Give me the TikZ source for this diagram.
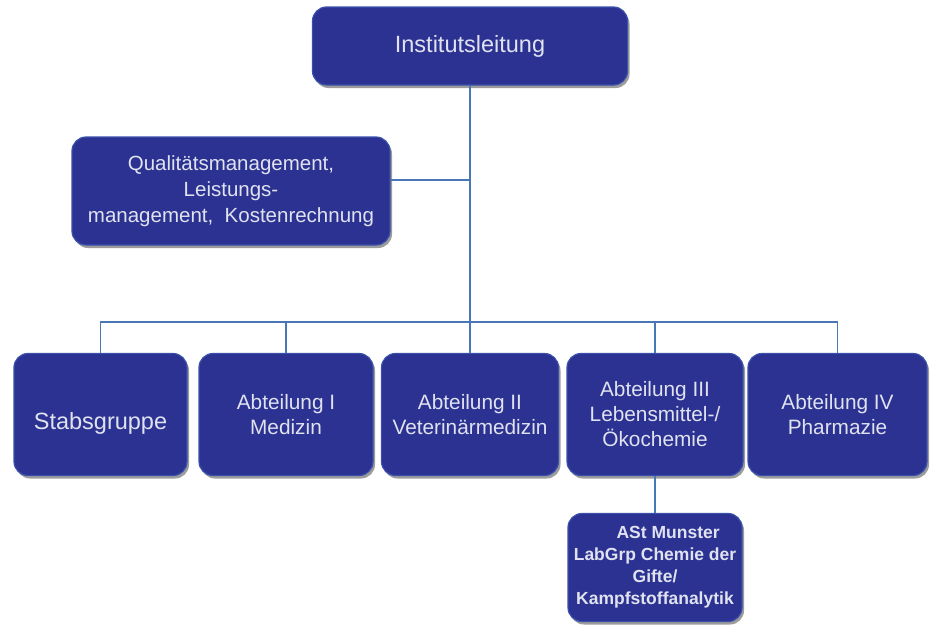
\documentclass[tikz,border=0pt]{standalone}
\usepackage{fontspec}
\setmainfont{Liberation Sans}
\usetikzlibrary{shadows}
\definecolor{boxfill}{RGB}{44,50,145}
\definecolor{boxedge}{RGB}{58,80,170}
\definecolor{linec}{RGB}{72,118,182}
\definecolor{txt}{RGB}{224,226,240}
\tikzset{
  orgbox/.style={draw=boxedge, line width=1.2pt, fill=boxfill, rounded corners=14pt,
    text=txt, align=center, inner sep=2pt,
    drop shadow={shadow xshift=2pt, shadow yshift=-3pt, opacity=0.55, fill=black!70}},
  conn/.style={draw=linec, line width=1.8pt}
}
\begin{document}
\begin{tikzpicture}[x=1pt,y=-1pt]
\useasboundingbox (0,0) rectangle (933,624);
\fill[white] (0,0) rectangle (933,624);

\node[orgbox, minimum width=315pt, minimum height=78pt, font=\fontsize{23.5}{27}\selectfont] (top) at (470,46) {Institutsleitung};

\node[orgbox, minimum width=318pt, minimum height=108pt, font=\fontsize{20.5}{26}\selectfont] (qm) at (231,191) {Qualitätsmanagement,\\Leistungs-\\management, \ Kostenrechnung};

\node[orgbox, minimum width=173pt, minimum height=122pt, font=\fontsize{23.5}{27}\selectfont] (stab) at (100.5,414.5) {\raisebox{-9pt}[\height][\depth]{Stabsgruppe}};
\node[orgbox, minimum width=174pt, minimum height=122pt, font=\fontsize{20.8}{25}\selectfont] (a1) at (286,414.5) {Abteilung I\\Medizin};
\node[orgbox, minimum width=177pt, minimum height=122pt, font=\fontsize{20.8}{25}\selectfont] (a2) at (470,414.5) {Abteilung II\\Veterinärmedizin};
\node[orgbox, minimum width=176pt, minimum height=122pt, font=\fontsize{20.8}{25}\selectfont] (a3) at (655,414.5) {Abteilung III\\Lebensmittel-/\\Ökochemie};
\node[orgbox, minimum width=179pt, minimum height=122pt, font=\fontsize{20.8}{25}\selectfont] (a4) at (837.5,414.5) {Abteilung IV\\Pharmazie};

\node[orgbox, minimum width=174pt, minimum height=108pt, font=\bfseries\fontsize{17.5}{22}\selectfont] (ast) at (655,567.5) {\hspace*{1.5em}ASt Munster\\LabGrp Chemie der\\Gifte/\\Kampfstoffanalytik};

\coordinate (bus) at (470,322);
\coordinate (qmj) at (470,180);

\draw[conn] (top.south) -- (a2.north);
\draw[conn] (qm.east |- qmj) -- (qmj);
\draw[conn] (stab.north) |- (bus) -| (a4.north);
\draw[conn] (a1.north) -- (a1.north |- bus);
\draw[conn] (a3.north) -- (a3.north |- bus);
\draw[conn] (a3.south) -- (ast.north);
\end{tikzpicture}
\end{document}
